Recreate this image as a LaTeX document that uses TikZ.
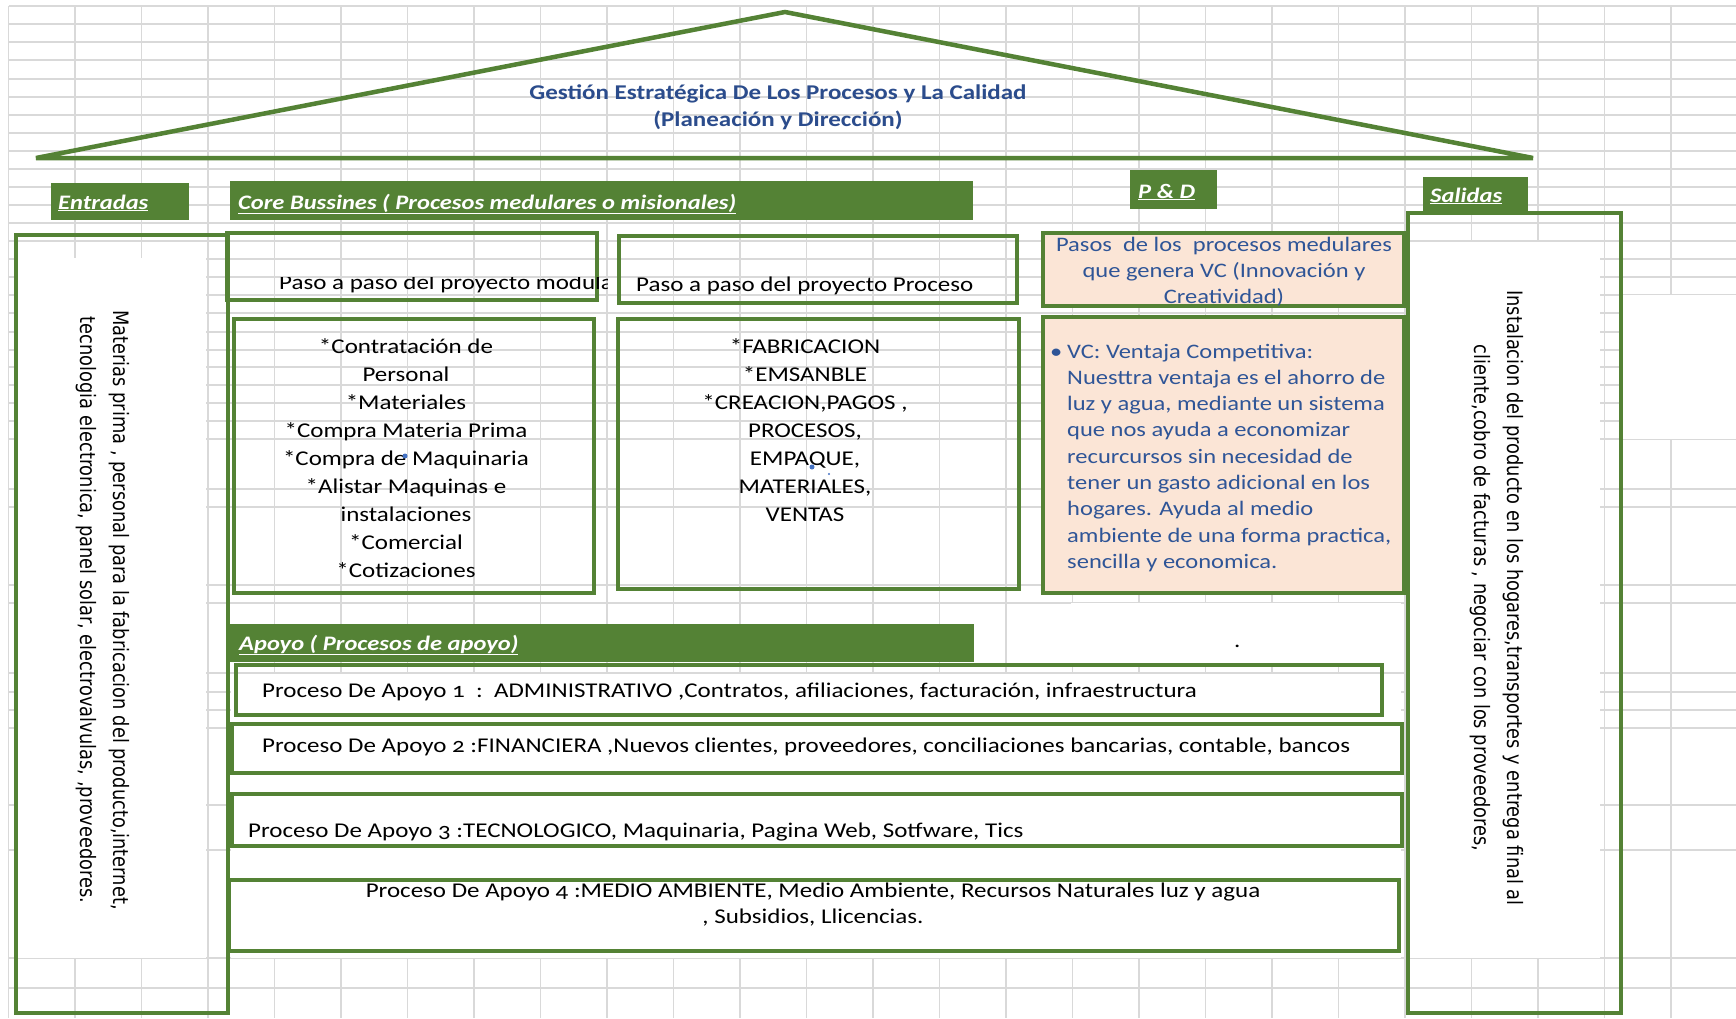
\documentclass[tikz,border=0pt]{standalone}
\usepackage{fontspec}
\setmainfont{Carlito}[FakeStretch=1.19]
\newfontfamily\fuenteCelda{Carlito}[FakeStretch=1.19,Numbers=OldStyle]
\newfontfamily\fuenteVertical{DejaVu Sans}[FakeStretch=0.84]

\definecolor{verdeExcel}{HTML}{548235}
\definecolor{salmonClaro}{HTML}{FBE5D6}
\definecolor{azulTexto}{HTML}{2F5597}
\definecolor{azulTitulo}{HTML}{2B4C8C}
\definecolor{rejilla}{HTML}{D9D9D9}
\definecolor{puntoAzul}{HTML}{4472C4}

\def\anchoCelda{66.5}
\def\filasHoja{6,24,42,60,79,97,115,133,151,169,187,205,223,241,259,277,295,313,332,350,367,385,403,421,439,489,507,585,603,673,692,710,728,805,850,958,988}

\begin{document}
\begin{tikzpicture}[x=1pt,y=-1pt,
        caja/.style={draw=verdeExcel,line width=4pt},
        cajaVC/.style={caja,fill=salmonClaro},
        barra/.style={fill=verdeExcel},
        titulo/.style={anchor=base,align=center,inner sep=0pt,text=azulTitulo,font=\fontsize{21}{27}\selectfont\bfseries},
        etiqueta/.style={anchor=base west,inner sep=0pt,text=white,font=\fontsize{20.6}{25}\selectfont\bfseries\itshape},
        celda/.style={anchor=base west,inner sep=0pt,font=\fuenteCelda\fontsize{21}{26}\selectfont},
        lista/.style={celda,anchor=base},
        azul/.style={celda,text=azulTexto,font=\fuenteCelda\fontsize{20.6}{26}\selectfont},
        rotado/.style={rotate=-90,align=center,inner sep=0pt,font=\fuenteVertical\fontsize{21.2}{33}\selectfont}]

    \useasboundingbox (0,0) rectangle (1736,1018);
    \fill[white] (0,0) rectangle (1736,1018);

    \begin{scope}[rejilla,line width=1.2pt]
        \foreach \k in {0,...,26}{%
                \draw (8.5+\anchoCelda*\k,6) -- (8.5+\anchoCelda*\k,1018);
            }
        \foreach \fy in \filasHoja{%
                \draw (8.5,\fy) -- (1736,\fy);
            }
    \end{scope}

    \fill[white] (17,258) rectangle (206,958);
    \fill[white] (1410,242) rectangle (1600,958);
    \fill[white] (1621,295) rectangle (1736,439);
    \fill[white] (1071,603) rectangle (1401,665);
    \fill[white] (231,674) rectangle (1401,958);

    \draw[verdeExcel,line width=4.5pt] (36,158) -- (785,12) -- (1533,158) -- cycle;
    \node[titulo] (titulo) at (778,126) {Gestión Estratégica De Los Procesos y La Calidad\\(Planeación y Dirección)};

    \fill[barra] (51,183) rectangle (189,220);
    \node[etiqueta] (entradas) at (58,209) {\underline{Entradas}};
    \fill[barra] (230,181) rectangle (973,220);
    \node[etiqueta] (core) at (238,209) {\underline{Core Bussines ( Procesos medulares o misionales)}};
    \fill[barra] (1130,170) rectangle (1217,209);
    \node[etiqueta] (pyd) at (1138,198) {\underline{P \& D}};
    \fill[barra] (1423,177) rectangle (1528,211);
    \node[etiqueta] (salidas) at (1430,202) {\underline{Salidas}};
    \fill[barra] (230,624) rectangle (974,662);
    \node[etiqueta] (apoyo) at (239,650) {\underline{Apoyo ( Procesos de apoyo)}};

    \draw[caja] (16,235) rectangle (228,1013);
    \draw[caja] (227,233) rectangle (597,300);
    \draw[caja] (619,236) rectangle (1017,303);
    \draw[caja] (234,319) rectangle (594,593);
    \draw[caja] (618,319) rectangle (1019,589);
    \draw[cajaVC] (1043,233) rectangle (1404,306);
    \draw[cajaVC] (1043,317) rectangle (1404,593);
    \draw[caja] (1408,213) rectangle (1621,1013);
    \draw[caja] (236,665) rectangle (1382,715);
    \draw[caja] (232,724) rectangle (1402,773);
    \draw[caja] (232,794) rectangle (1402,846);
    \draw[caja] (229,880) rectangle (1399,951);

    \begin{scope}
        \clip (229,277) rectangle (607,300);
        \node[celda] (modulo) at (279,289) {Paso a paso del proyecto modula};
    \end{scope}
    \node[celda] (proceso) at (636,291) {Paso a paso del proyecto Proceso};

    \foreach \linea [count=\i from 0] in {*Contratación de, Personal, *Materiales, *Compra Materia Prima, *Compra de Maquinaria, *Alistar Maquinas e, instalaciones, *Comercial, *Cotizaciones}{%
            \node[lista] (gestion\i) at (406,353+28*\i) {\linea};
        }
    \foreach \linea [count=\i from 0] in {*FABRICACION, *EMSANBLE, {*CREACION,PAGOS ,}, {PROCESOS,}, {EMPAQUE,}, {MATERIALES,}, VENTAS}{%
            \node[lista] (fabrica\i) at (805,353+28*\i) {\linea};
        }
    \fill[puntoAzul] (405,456) circle (2.5);
    \fill[puntoAzul] (812,467) circle (2.5);
    \fill[puntoAzul] (829,474) circle (1.2);

    \foreach \linea [count=\i from 0] in {Pasos\ \ de los\ \ procesos medulares, que genera VC (Innovación y, Creatividad)}{%
            \node[azul,anchor=base] (pasos\i) at (1224,251+26*\i) {\linea};
        }
    \node[azul] (vcBala) at (1050,358) {•};
    \foreach \linea [count=\i from 0] in {VC: Ventaja Competitiva:, Nuesttra ventaja es el ahorro de, {luz y agua, mediante un sistema}, que nos ayuda a economizar, recurcursos sin necesidad de, tener un gasto adicional en los, hogares. Ayuda al medio, {ambiente de una forma practica,}, sencilla y economica.}{%
            \node[azul] (ventaja\i) at (1067,358+26.3*\i) {\linea};
        }

    \node[rotado] (entradasTxt) at (103,610) {Materias prima , personal para la fabricacion del producto,internet,\\tecnologia electronica, panel solar, electrovalvulas, ,proveedores.};
    \node[rotado] (salidasTxt) at (1497,598) {Instalacion del producto en los hogares,transportes y entrega final al\\cliente,cobro de facturas , negociar con los proveedores,};

    \node[celda] (punto) at (1234,647) {.};
    \node[celda] (apoyoUno) at (262,697) {Proceso De Apoyo 1\ \ :\ \ ADMINISTRATIVO ,Contratos, afiliaciones, facturación, infraestructura};
    \node[celda] (apoyoDos) at (262,752) {Proceso De Apoyo 2 :FINANCIERA ,Nuevos clientes, proveedores, conciliaciones bancarias, contable, bancos};
    \node[celda] (apoyoTres) at (248,837) {Proceso De Apoyo 3 :TECNOLOGICO, Maquinaria, Pagina Web, Sotfware, Tics};
    \node[celda,anchor=base,align=center] (apoyoCuatro) at (813,923) {Proceso De Apoyo 4 :MEDIO AMBIENTE, Medio Ambiente, Recursos Naturales luz y agua\\, Subsidios, Llicencias.};

\end{tikzpicture}
\end{document}
